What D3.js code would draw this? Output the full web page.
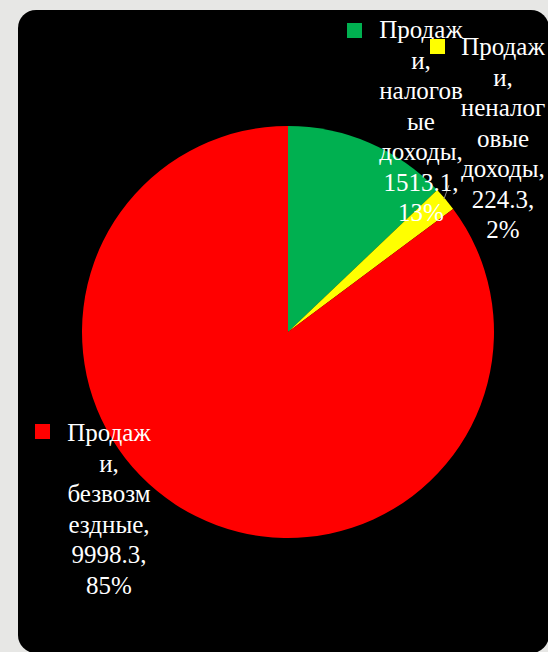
<!DOCTYPE html>
<html>
<head>
<meta charset="utf-8">
<script src="https://cdn.jsdelivr.net/npm/d3@7"></script>
<style>
  html, body { margin: 0; padding: 0; background: #e7e7e5; overflow: hidden; }
  svg { display: block; }
</style>
</head>
<body>
<svg id="chart" width="548" height="652"></svg>
<script>
// ---- data ----
const categories = ["Продажи, налоговые доходы", "Продажи, неналоговые доходы", "Продажи, безвозмездные"];
const values = [1513.1, 224.3, 9998.3];
const percents = ["13%", "2%", "85%"];
const valueLabels = ["1513.1,", "224.3,", "9998.3,"];
const nameLines = [
  ["Продаж", "и,", "налогов", "ые", "доходы,"],
  ["Продаж", "и,", "неналог", "овые", "доходы,"],
  ["Продаж", "и,", "безвозм", "ездные,"]
];
const colors = ["#00b050", "#ffff00", "#ff0000"];

// ---- layout ----
const W = 548, H = 652;
const cx = 288, cy = 332, R = 206;
const svg = d3.select("#chart");

svg.append("rect").attr("width", W).attr("height", H).attr("fill", "#e7e7e5");
svg.append("rect")
  .attr("x", 18).attr("y", 10).attr("width", 531).attr("height", 643)
  .attr("rx", 18).attr("ry", 18).attr("fill", "#000");

const pie = d3.pie().sort(null).value(d => d)(values);
const arc = d3.arc().innerRadius(0).outerRadius(R);

const g = svg.append("g").attr("transform", `translate(${cx},${cy})`);
g.selectAll("path").data(pie).join("path")
  .attr("d", arc)
  .attr("fill", (d, i) => colors[i]);

// leader line for small slice
svg.append("line")
  .attr("x1", 444).attr("y1", 199).attr("x2", 449).attr("y2", 185)
  .attr("stroke", "#8c8c8c").attr("stroke-width", 1);

const labelPos = [
  { tx: 421, ty: 38, kx: 347, ky: 23 },
  { tx: 503, ty: 55, kx: 430, ky: 39 },
  { tx: 109, ty: 441, kx: 35, ky: 424 }
];
const lineH = 30.5;

categories.forEach((c, i) => {
  const p = labelPos[i];
  const lines = nameLines[i].concat([valueLabels[i], percents[i]]);
  svg.append("rect")
    .attr("x", p.kx).attr("y", p.ky).attr("width", 15).attr("height", 15)
    .attr("fill", colors[i]);
  lines.forEach((ln, j) => {
    svg.append("text")
      .attr("font-family", "Liberation Serif")
      .attr("font-size", 25)
      .attr("fill", "#fff")
      .attr("text-anchor", "middle")
      .attr("x", p.tx).attr("y", p.ty + j * lineH)
      .text(ln);
  });
});
</script>
</body>
</html>
